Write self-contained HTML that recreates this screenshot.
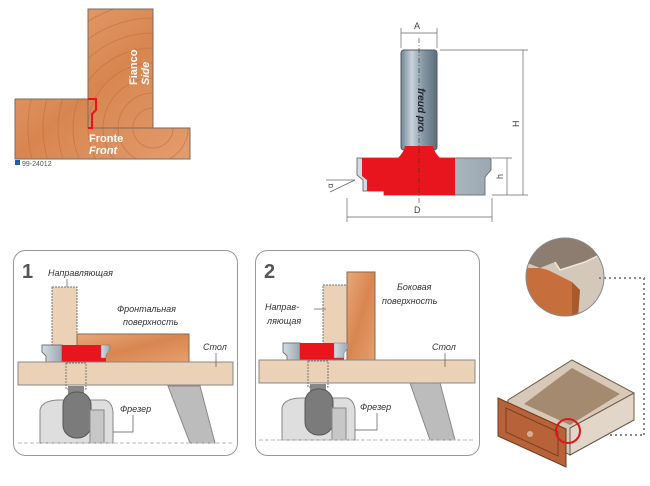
<!DOCTYPE html>
<html><head><meta charset="utf-8"><style>
html,body{margin:0;padding:0;background:#fff;}
svg{display:block;font-family:"Liberation Sans",sans-serif;}
</style></head><body>
<svg width="650" height="486" viewBox="0 0 650 486" xmlns="http://www.w3.org/2000/svg">
<defs>
<linearGradient id="wood" x1="0" y1="0" x2="1" y2="1">
<stop offset="0" stop-color="#e9a779"/><stop offset="0.5" stop-color="#d88650"/><stop offset="1" stop-color="#e4a070"/>
</linearGradient>
<linearGradient id="shank" x1="0" x2="1">
<stop offset="0" stop-color="#6f8594"/><stop offset="0.3" stop-color="#c9d4dc"/><stop offset="0.6" stop-color="#8799a6"/><stop offset="1" stop-color="#5b6e7b"/>
</linearGradient>
<linearGradient id="steel" x1="0" x2="1">
<stop offset="0" stop-color="#d6dde3"/><stop offset="1" stop-color="#9aa7b1"/>
</linearGradient>
<clipPath id="woodclip">
<path d="M88 9H153V128H190V159H15V99H88Z"/>
</clipPath>
<clipPath id="circ"><circle cx="565" cy="277" r="39"/></clipPath>
</defs>

<!-- top-left wood joint -->
<g clip-path="url(#woodclip)">
<rect x="0" y="0" width="200" height="170" fill="url(#wood)"/>
<g fill="none" stroke="#c0703f" stroke-width="1" opacity="0.6">
<circle cx="153" cy="128" r="20"/><circle cx="153" cy="128" r="35"/><circle cx="153" cy="128" r="50"/><circle cx="153" cy="128" r="65"/><circle cx="153" cy="128" r="80"/><circle cx="153" cy="128" r="95"/><circle cx="153" cy="128" r="110"/><circle cx="153" cy="128" r="125"/>
</g>
</g>
<rect x="88" y="9" width="65" height="119" fill="none" stroke="#7a6a60"/>
<path d="M15 99H88M15 99V159H190V128H153" fill="none" stroke="#7a6a60"/>
<path d="M88 99H96V110L92 114V128H88" fill="none" stroke="#e3141c" stroke-width="2"/>
<text x="89" y="142" font-size="11" font-weight="bold" fill="#fff">Fronte</text>
<text x="89" y="154" font-size="11" font-weight="bold" font-style="italic" fill="#fff">Front</text>
<text transform="translate(137,85) rotate(-90)" font-size="11" font-weight="bold" fill="#fff">Fianco</text>
<text transform="translate(149,85) rotate(-90)" font-size="11" font-weight="bold" font-style="italic" fill="#fff">Side</text>
<rect x="15" y="160" width="5" height="5" fill="#1b5fb0"/>
<text x="22" y="166" font-size="7" fill="#555">99-24012</text>

<!-- cutter drawing -->
<g stroke="#666" stroke-width="0.7" fill="none">
<line x1="401" y1="28" x2="401" y2="48"/><line x1="437" y1="28" x2="437" y2="48"/>
<line x1="401" y1="33" x2="437" y2="33"/>
<line x1="440" y1="50" x2="528" y2="50"/><line x1="523" y1="50" x2="523" y2="195"/>
<line x1="492" y1="158" x2="512" y2="158"/><line x1="507" y1="158" x2="507" y2="195"/>
<line x1="492" y1="195" x2="528" y2="195"/>
<line x1="347" y1="198" x2="347" y2="222"/><line x1="492" y1="198" x2="492" y2="222"/>
<line x1="347" y1="217" x2="492" y2="217"/>
<line x1="326" y1="180" x2="355" y2="180"/><line x1="330" y1="192" x2="355" y2="180"/>
</g>
<text x="414" y="29" font-size="9" fill="#444">A</text>
<text x="414" y="213" font-size="9" fill="#444">D</text>
<text transform="translate(519,127) rotate(-90)" font-size="9" fill="#444">H</text>
<text transform="translate(503,179) rotate(-90)" font-size="9" fill="#444">h</text>
<text transform="translate(333,188) rotate(-90)" font-size="8" fill="#444">α</text>
<rect x="401" y="50" width="36" height="100" rx="3" fill="url(#shank)" stroke="#556"/>
<text transform="translate(418,110) rotate(90)" font-size="10" font-weight="bold" font-style="italic" fill="#223" text-anchor="middle">freud pro</text>
<path d="M357 158H491V170L485 177V195H384V191H363V180L357 175Z" fill="url(#steel)" stroke="#777"/>
<path d="M362 158H455V195H384V191H367V180L362 176Z" fill="#e9151e"/>
<path d="M398 158Q404 152 405 146H433Q434 152 440 158Z" fill="#e9151e"/>
<line x1="419" y1="38" x2="419" y2="205" stroke="#333" stroke-width="0.6" stroke-dasharray="5,2,1,2"/>

<!-- panel frames -->
<rect x="13.5" y="250.5" width="224" height="205" rx="12" fill="#fff" stroke="#999"/>
<rect x="255.5" y="250.5" width="224" height="205" rx="12" fill="#fff" stroke="#999"/>

<!-- panel 1 -->
<text x="22" y="278" font-size="20" font-weight="bold" fill="#555">1</text>
<text x="48" y="276" font-size="9" font-style="italic" fill="#333">Направляющая</text>
<line x1="67" y1="279" x2="67" y2="292" stroke="#555" stroke-width="0.7"/>
<rect x="52" y="287" width="25" height="60" fill="#ebd2b6" stroke="#777" stroke-dasharray="2,1"/>
<rect x="77" y="334" width="112" height="29" fill="url(#wood)" stroke="#8a6a50"/>
<text x="117" y="312" font-size="9" font-style="italic" fill="#333">Фронтальная</text>
<text x="123" y="325" font-size="9" font-style="italic" fill="#333">поверхность</text>
<path d="M42 345H62V363H46V356L42 352Z" fill="url(#steel)" stroke="#777"/>
<path d="M62 345H110V350L106 355V362H62Z" fill="#e9151e"/>
<path d="M101 345H110V350L106 355V358H101Z" fill="url(#steel)" stroke="#777" stroke-width="0.5"/>
<rect x="18" y="362" width="215" height="23" fill="#ebd2b6" stroke="#888"/>
<rect x="66" y="363" width="20" height="26" fill="none" stroke="#777" stroke-dasharray="2,1"/>
<text x="203" y="350" font-size="9" font-style="italic" fill="#333">Стол</text>
<line x1="216" y1="353" x2="216" y2="367" stroke="#555" stroke-width="0.7"/>
<path d="M168 386H200L215 443H190Z" fill="#bcbcbc" stroke="#888"/>
<rect x="68" y="386" width="16" height="8" fill="#888"/>
<path d="M40 410Q42 400 60 400H105Q112 402 113 412V443H40Z" fill="#dedede" stroke="#888"/>
<rect x="63" y="392" width="28" height="46" rx="13" fill="#7b7b7b" stroke="#555"/>
<rect x="90" y="410" width="14" height="33" fill="#c7c7c7" stroke="#888"/>
<text x="120" y="412" font-size="9" font-style="italic" fill="#333">Фрезер</text>
<path d="M133 415V432H113" fill="none" stroke="#555" stroke-width="0.7"/>
<line x1="18" y1="443" x2="233" y2="443" stroke="#bbb" stroke-dasharray="4,2"/>

<!-- panel 2 -->
<text x="264" y="278" font-size="20" font-weight="bold" fill="#555">2</text>
<rect x="323" y="285" width="24" height="60" fill="#ebd2b6" stroke="#777" stroke-dasharray="2,1"/>
<rect x="347" y="272" width="28" height="90" fill="url(#wood)" stroke="#8a6a50"/>
<text x="397" y="290" font-size="9" font-style="italic" fill="#333">Боковая</text>
<text x="382" y="304" font-size="9" font-style="italic" fill="#333">поверхность</text>
<text x="265" y="310" font-size="9" font-style="italic" fill="#333">Направ-</text>
<text x="267" y="324" font-size="9" font-style="italic" fill="#333">ляющая</text>
<line x1="314" y1="309" x2="326" y2="309" stroke="#555" stroke-width="0.7"/>
<path d="M283 343H300V362H287V356L283 352Z" fill="url(#steel)" stroke="#777"/>
<path d="M300 343H348V348L344 353V360H300Z" fill="#e9151e"/>
<path d="M334 343H348V348L344 353V358H334Z" fill="url(#steel)" stroke="#777" stroke-width="0.5"/>
<rect x="259" y="360" width="216" height="23" fill="#ebd2b6" stroke="#888"/>
<rect x="308" y="361" width="20" height="26" fill="none" stroke="#777" stroke-dasharray="2,1"/>
<text x="432" y="350" font-size="9" font-style="italic" fill="#333">Стол</text>
<line x1="445" y1="353" x2="445" y2="367" stroke="#555" stroke-width="0.7"/>
<path d="M410 383H440L455 440H430Z" fill="#bcbcbc" stroke="#888"/>
<rect x="310" y="384" width="16" height="8" fill="#888"/>
<path d="M282 408Q284 398 302 398H347Q354 400 355 410V440H282Z" fill="#dedede" stroke="#888"/>
<rect x="305" y="389" width="28" height="46" rx="13" fill="#7b7b7b" stroke="#555"/>
<rect x="332" y="408" width="14" height="32" fill="#c7c7c7" stroke="#888"/>
<text x="360" y="410" font-size="9" font-style="italic" fill="#333">Фрезер</text>
<path d="M377 413V430H355" fill="none" stroke="#555" stroke-width="0.7"/>
<line x1="259" y1="440" x2="475" y2="440" stroke="#bbb" stroke-dasharray="4,2"/>

<!-- drawer detail circle -->
<g clip-path="url(#circ)">
<rect x="520" y="235" width="90" height="85" fill="#d4c8bb"/>
<path d="M520 235H610V250L585 262L560 270L555 262L540 268L520 260Z" fill="#8c7d70"/>
<path d="M520 268L540 268L548 270L560 276L572 282L578 318H520Z" fill="#c76f3c"/>
<path d="M572 282L580 290L578 318L572 318Z" fill="#a85a2c"/>
<path d="M555 262L560 270L585 262L610 250" fill="none" stroke="#f0e6da" stroke-width="1.5"/>
</g>
<circle cx="565" cy="277" r="39" fill="none" stroke="#888"/>
<line x1="599" y1="278" x2="645" y2="278" stroke="#888" stroke-width="2" stroke-dasharray="2,3"/>
<line x1="644" y1="278" x2="644" y2="435" stroke="#888" stroke-width="2" stroke-dasharray="2,3"/>
<line x1="575" y1="435" x2="644" y2="435" stroke="#888" stroke-width="2" stroke-dasharray="2,3"/>

<!-- drawer -->
<path d="M508 400L572 360L634 393L634 420L570 455L508 420Z" fill="#d8c8b8" stroke="#6b5a4a"/>
<path d="M524 404L572 368L620 394L570 425Z" fill="#a48b70"/>
<path d="M570 428L634 393V420L570 455Z" fill="#e2d6c8" stroke="#6b5a4a"/>
<path d="M498 398L566 429V467L498 436Z" fill="#b8623a" stroke="#6a3a20"/>
<path d="M506 408L558 432V456L506 432Z" fill="none" stroke="#7a4020"/>
<circle cx="530" cy="434" r="3" fill="#d8b090"/>
<circle cx="568" cy="431" r="12" fill="none" stroke="#e3141c" stroke-width="2"/>
</svg>
</body></html>
